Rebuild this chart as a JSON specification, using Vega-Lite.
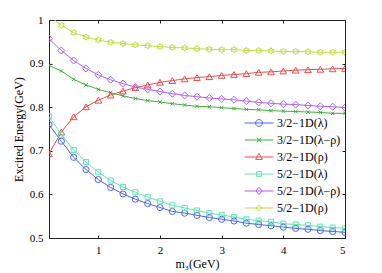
{
  "$schema": "https://vega.github.io/schema/vega-lite/v6.json",
  "width": 296,
  "height": 218,
  "autosize": {"type": "none"},
  "padding": {"left": 49, "top": 20, "right": 37, "bottom": 35},
  "background": "white",
  "config": {
    "view": {"stroke": "#222222", "strokeWidth": 1},
    "font": "Liberation Serif",
    "axis": {
      "domain": false,
      "grid": false,
      "tickSize": -3,
      "tickColor": "#222222",
      "labelFont": "Liberation Serif",
      "labelFontSize": 11,
      "labelColor": "black",
      "titleFont": "Liberation Serif",
      "titleFontSize": 12,
      "titleFontWeight": "normal",
      "titleColor": "black"
    },
    "legend": {
      "labelFont": "Liberation Serif",
      "labelFontSize": 12,
      "labelColor": "black"
    }
  },
  "data": {
    "values": [
      {"m":0.2,"E":0.760,"s":"3/2−1D(λ)"},{"m":0.4,"E":0.722,"s":"3/2−1D(λ)"},{"m":0.6,"E":0.685,"s":"3/2−1D(λ)"},{"m":0.8,"E":0.657,"s":"3/2−1D(λ)"},{"m":1.0,"E":0.634,"s":"3/2−1D(λ)"},{"m":1.2,"E":0.616,"s":"3/2−1D(λ)"},{"m":1.4,"E":0.601,"s":"3/2−1D(λ)"},{"m":1.6,"E":0.589,"s":"3/2−1D(λ)"},{"m":1.8,"E":0.579,"s":"3/2−1D(λ)"},{"m":2.0,"E":0.570,"s":"3/2−1D(λ)"},{"m":2.2,"E":0.561,"s":"3/2−1D(λ)"},{"m":2.4,"E":0.557,"s":"3/2−1D(λ)"},{"m":2.6,"E":0.552,"s":"3/2−1D(λ)"},{"m":2.8,"E":0.547,"s":"3/2−1D(λ)"},{"m":3.0,"E":0.543,"s":"3/2−1D(λ)"},{"m":3.2,"E":0.539,"s":"3/2−1D(λ)"},{"m":3.4,"E":0.534,"s":"3/2−1D(λ)"},{"m":3.6,"E":0.531,"s":"3/2−1D(λ)"},{"m":3.8,"E":0.528,"s":"3/2−1D(λ)"},{"m":4.0,"E":0.525,"s":"3/2−1D(λ)"},{"m":4.2,"E":0.522,"s":"3/2−1D(λ)"},{"m":4.4,"E":0.520,"s":"3/2−1D(λ)"},{"m":4.6,"E":0.517,"s":"3/2−1D(λ)"},{"m":4.8,"E":0.515,"s":"3/2−1D(λ)"},{"m":5.0,"E":0.513,"s":"3/2−1D(λ)"},

      {"m":0.2,"E":0.896,"s":"3/2−1D(λ−ρ)"},{"m":0.4,"E":0.883,"s":"3/2−1D(λ−ρ)"},{"m":0.6,"E":0.864,"s":"3/2−1D(λ−ρ)"},{"m":0.8,"E":0.851,"s":"3/2−1D(λ−ρ)"},{"m":1.0,"E":0.841,"s":"3/2−1D(λ−ρ)"},{"m":1.2,"E":0.833,"s":"3/2−1D(λ−ρ)"},{"m":1.4,"E":0.826,"s":"3/2−1D(λ−ρ)"},{"m":1.6,"E":0.820,"s":"3/2−1D(λ−ρ)"},{"m":1.8,"E":0.815,"s":"3/2−1D(λ−ρ)"},{"m":2.0,"E":0.812,"s":"3/2−1D(λ−ρ)"},{"m":2.2,"E":0.808,"s":"3/2−1D(λ−ρ)"},{"m":2.4,"E":0.805,"s":"3/2−1D(λ−ρ)"},{"m":2.6,"E":0.802,"s":"3/2−1D(λ−ρ)"},{"m":2.8,"E":0.801,"s":"3/2−1D(λ−ρ)"},{"m":3.0,"E":0.799,"s":"3/2−1D(λ−ρ)"},{"m":3.2,"E":0.797,"s":"3/2−1D(λ−ρ)"},{"m":3.4,"E":0.795,"s":"3/2−1D(λ−ρ)"},{"m":3.6,"E":0.794,"s":"3/2−1D(λ−ρ)"},{"m":3.8,"E":0.792,"s":"3/2−1D(λ−ρ)"},{"m":4.0,"E":0.791,"s":"3/2−1D(λ−ρ)"},{"m":4.2,"E":0.790,"s":"3/2−1D(λ−ρ)"},{"m":4.4,"E":0.789,"s":"3/2−1D(λ−ρ)"},{"m":4.6,"E":0.788,"s":"3/2−1D(λ−ρ)"},{"m":4.8,"E":0.786,"s":"3/2−1D(λ−ρ)"},{"m":5.0,"E":0.786,"s":"3/2−1D(λ−ρ)"},

      {"m":0.2,"E":0.693,"s":"3/2−1D(ρ)"},{"m":0.4,"E":0.743,"s":"3/2−1D(ρ)"},{"m":0.6,"E":0.778,"s":"3/2−1D(ρ)"},{"m":0.8,"E":0.801,"s":"3/2−1D(ρ)"},{"m":1.0,"E":0.816,"s":"3/2−1D(ρ)"},{"m":1.2,"E":0.828,"s":"3/2−1D(ρ)"},{"m":1.4,"E":0.837,"s":"3/2−1D(ρ)"},{"m":1.6,"E":0.845,"s":"3/2−1D(ρ)"},{"m":1.8,"E":0.851,"s":"3/2−1D(ρ)"},{"m":2.0,"E":0.857,"s":"3/2−1D(ρ)"},{"m":2.2,"E":0.861,"s":"3/2−1D(ρ)"},{"m":2.4,"E":0.865,"s":"3/2−1D(ρ)"},{"m":2.6,"E":0.868,"s":"3/2−1D(ρ)"},{"m":2.8,"E":0.870,"s":"3/2−1D(ρ)"},{"m":3.0,"E":0.873,"s":"3/2−1D(ρ)"},{"m":3.2,"E":0.875,"s":"3/2−1D(ρ)"},{"m":3.4,"E":0.877,"s":"3/2−1D(ρ)"},{"m":3.6,"E":0.880,"s":"3/2−1D(ρ)"},{"m":3.8,"E":0.881,"s":"3/2−1D(ρ)"},{"m":4.0,"E":0.883,"s":"3/2−1D(ρ)"},{"m":4.2,"E":0.885,"s":"3/2−1D(ρ)"},{"m":4.4,"E":0.886,"s":"3/2−1D(ρ)"},{"m":4.6,"E":0.887,"s":"3/2−1D(ρ)"},{"m":4.8,"E":0.888,"s":"3/2−1D(ρ)"},{"m":5.0,"E":0.889,"s":"3/2−1D(ρ)"},

      {"m":0.2,"E":0.779,"s":"5/2−1D(λ)"},{"m":0.4,"E":0.737,"s":"5/2−1D(λ)"},{"m":0.6,"E":0.702,"s":"5/2−1D(λ)"},{"m":0.8,"E":0.674,"s":"5/2−1D(λ)"},{"m":1.0,"E":0.651,"s":"5/2−1D(λ)"},{"m":1.2,"E":0.632,"s":"5/2−1D(λ)"},{"m":1.4,"E":0.617,"s":"5/2−1D(λ)"},{"m":1.6,"E":0.605,"s":"5/2−1D(λ)"},{"m":1.8,"E":0.594,"s":"5/2−1D(λ)"},{"m":2.0,"E":0.584,"s":"5/2−1D(λ)"},{"m":2.2,"E":0.575,"s":"5/2−1D(λ)"},{"m":2.4,"E":0.569,"s":"5/2−1D(λ)"},{"m":2.6,"E":0.563,"s":"5/2−1D(λ)"},{"m":2.8,"E":0.557,"s":"5/2−1D(λ)"},{"m":3.0,"E":0.553,"s":"5/2−1D(λ)"},{"m":3.2,"E":0.548,"s":"5/2−1D(λ)"},{"m":3.4,"E":0.543,"s":"5/2−1D(λ)"},{"m":3.6,"E":0.540,"s":"5/2−1D(λ)"},{"m":3.8,"E":0.537,"s":"5/2−1D(λ)"},{"m":4.0,"E":0.533,"s":"5/2−1D(λ)"},{"m":4.2,"E":0.531,"s":"5/2−1D(λ)"},{"m":4.4,"E":0.529,"s":"5/2−1D(λ)"},{"m":4.6,"E":0.526,"s":"5/2−1D(λ)"},{"m":4.8,"E":0.524,"s":"5/2−1D(λ)"},{"m":5.0,"E":0.522,"s":"5/2−1D(λ)"},

      {"m":0.2,"E":0.957,"s":"5/2−1D(λ−ρ)"},{"m":0.4,"E":0.930,"s":"5/2−1D(λ−ρ)"},{"m":0.6,"E":0.907,"s":"5/2−1D(λ−ρ)"},{"m":0.8,"E":0.889,"s":"5/2−1D(λ−ρ)"},{"m":1.0,"E":0.874,"s":"5/2−1D(λ−ρ)"},{"m":1.2,"E":0.863,"s":"5/2−1D(λ−ρ)"},{"m":1.4,"E":0.854,"s":"5/2−1D(λ−ρ)"},{"m":1.6,"E":0.846,"s":"5/2−1D(λ−ρ)"},{"m":1.8,"E":0.841,"s":"5/2−1D(λ−ρ)"},{"m":2.0,"E":0.836,"s":"5/2−1D(λ−ρ)"},{"m":2.2,"E":0.831,"s":"5/2−1D(λ−ρ)"},{"m":2.4,"E":0.827,"s":"5/2−1D(λ−ρ)"},{"m":2.6,"E":0.824,"s":"5/2−1D(λ−ρ)"},{"m":2.8,"E":0.821,"s":"5/2−1D(λ−ρ)"},{"m":3.0,"E":0.819,"s":"5/2−1D(λ−ρ)"},{"m":3.2,"E":0.817,"s":"5/2−1D(λ−ρ)"},{"m":3.4,"E":0.814,"s":"5/2−1D(λ−ρ)"},{"m":3.6,"E":0.811,"s":"5/2−1D(λ−ρ)"},{"m":3.8,"E":0.809,"s":"5/2−1D(λ−ρ)"},{"m":4.0,"E":0.807,"s":"5/2−1D(λ−ρ)"},{"m":4.2,"E":0.806,"s":"5/2−1D(λ−ρ)"},{"m":4.4,"E":0.804,"s":"5/2−1D(λ−ρ)"},{"m":4.6,"E":0.802,"s":"5/2−1D(λ−ρ)"},{"m":4.8,"E":0.801,"s":"5/2−1D(λ−ρ)"},{"m":5.0,"E":0.799,"s":"5/2−1D(λ−ρ)"},

      {"m":0.2,"E":1.010,"s":"5/2−1D(ρ)"},{"m":0.4,"E":0.988,"s":"5/2−1D(ρ)"},{"m":0.6,"E":0.971,"s":"5/2−1D(ρ)"},{"m":0.8,"E":0.961,"s":"5/2−1D(ρ)"},{"m":1.0,"E":0.954,"s":"5/2−1D(ρ)"},{"m":1.2,"E":0.949,"s":"5/2−1D(ρ)"},{"m":1.4,"E":0.946,"s":"5/2−1D(ρ)"},{"m":1.6,"E":0.943,"s":"5/2−1D(ρ)"},{"m":1.8,"E":0.941,"s":"5/2−1D(ρ)"},{"m":2.0,"E":0.939,"s":"5/2−1D(ρ)"},{"m":2.2,"E":0.937,"s":"5/2−1D(ρ)"},{"m":2.4,"E":0.936,"s":"5/2−1D(ρ)"},{"m":2.6,"E":0.934,"s":"5/2−1D(ρ)"},{"m":2.8,"E":0.933,"s":"5/2−1D(ρ)"},{"m":3.0,"E":0.932,"s":"5/2−1D(ρ)"},{"m":3.2,"E":0.932,"s":"5/2−1D(ρ)"},{"m":3.4,"E":0.930,"s":"5/2−1D(ρ)"},{"m":3.6,"E":0.930,"s":"5/2−1D(ρ)"},{"m":3.8,"E":0.929,"s":"5/2−1D(ρ)"},{"m":4.0,"E":0.928,"s":"5/2−1D(ρ)"},{"m":4.2,"E":0.928,"s":"5/2−1D(ρ)"},{"m":4.4,"E":0.927,"s":"5/2−1D(ρ)"},{"m":4.6,"E":0.926,"s":"5/2−1D(ρ)"},{"m":4.8,"E":0.926,"s":"5/2−1D(ρ)"},{"m":5.0,"E":0.926,"s":"5/2−1D(ρ)"}
    ]
  },
  "resolve": {"axis": {"x": "independent", "y": "independent"}},
  "layer": [
    {
      "mark": {"type": "line", "strokeWidth": 1, "clip": true},
      "encoding": {
        "x": {"field": "m", "type": "quantitative", "scale": {"domain": [0.2, 5], "nice": false, "zero": false},
              "axis": {"orient": "top", "labels": false, "title": null, "values": [1, 2, 3, 4, 5]}},
        "y": {"field": "E", "type": "quantitative", "scale": {"domain": [0.5, 1], "nice": false, "zero": false},
              "axis": {"orient": "right", "labels": false, "title": null, "values": [0.5, 0.6, 0.7, 0.8, 0.9, 1]}},
        "color": {"field": "s", "type": "nominal",
                  "scale": {"domain": ["3/2−1D(λ)", "3/2−1D(λ−ρ)", "3/2−1D(ρ)", "5/2−1D(λ)", "5/2−1D(λ−ρ)", "5/2−1D(ρ)"],
                            "range": ["#4d63f0", "#3db23d", "#f24a4a", "#5fe6b2", "#b25ff7", "#c4dc3a"]},
                  "legend": {
                    "orient": "none", "legendX": 204, "legendY": 97, "title": null, "padding": 0,
                    "symbolSize": 64, "symbolStrokeWidth": 1, "labelOffset": 12, "rowPadding": 5,
                    "encode": {"symbols": {"update": {
                      "fill": {"value": "transparent"},
                      "shape": {"signal": "datum.value == '3/2−1D(λ)' ? 'M-3.6,0L3.6,0M-0.85,0A0.85,0.85 0 1,0 0.85,0A0.85,0.85 0 1,0 -0.85,0' : datum.value == '3/2−1D(λ−ρ)' ? 'M-3.6,0L3.6,0M-0.55,-0.55L0.55,0.55M-0.55,0.55L0.55,-0.55' : datum.value == '3/2−1D(ρ)' ? 'M-3.6,0L3.6,0M0,-0.9L0.85,0.6L-0.85,0.6Z' : datum.value == '5/2−1D(λ)' ? 'M-3.6,0L3.6,0M-0.6,-0.6L0.6,-0.6L0.6,0.6L-0.6,0.6Z' : datum.value == '5/2−1D(λ−ρ)' ? 'M-3.6,0L3.6,0M0,-0.95L0.75,0L0,0.95L-0.75,0Z' : 'M-3.6,0L3.6,0M-0.6,0A0.6,0.6 0 1,0 0.6,0A0.6,0.6 0 1,0 -0.6,0'"}
                    }}}
                  }},
        "detail": {"field": "s"}
      }
    },
    {
      "transform": [{"filter": "datum.s == '3/2−1D(λ)'"}],
      "mark": {"type": "point", "shape": "circle", "size": 38, "filled": false, "strokeWidth": 1, "opacity": 1, "clip": true, "color": "#4d63f0"},
      "encoding": {
        "x": {"field": "m", "type": "quantitative", "scale": {"domain": [0.2, 5], "nice": false, "zero": false},
              "axis": {"orient": "bottom", "title": "m₃(GeV)", "values": [1, 2, 3, 4, 5], "labelPadding": 9, "titlePadding": 3}},
        "y": {"field": "E", "type": "quantitative", "scale": {"domain": [0.5, 1], "nice": false, "zero": false},
              "axis": {"orient": "left", "title": "Excited Energy(GeV)", "values": [0.5, 0.6, 0.7, 0.8, 0.9, 1], "format": "~g", "labelPadding": 9, "titlePadding": 4}}
      }
    },
    {
      "transform": [{"filter": "datum.s == '3/2−1D(λ−ρ)'"}],
      "mark": {"type": "point", "shape": "M-1,-1L1,1M-1,1L1,-1", "size": 12, "filled": false, "strokeWidth": 1, "opacity": 1, "clip": true, "color": "#3db23d"},
      "encoding": {
        "x": {"field": "m", "type": "quantitative", "axis": null},
        "y": {"field": "E", "type": "quantitative", "axis": null}
      }
    },
    {
      "transform": [{"filter": "datum.s == '3/2−1D(ρ)'"}],
      "mark": {"type": "point", "shape": "triangle-up", "size": 45, "filled": false, "strokeWidth": 1, "opacity": 1, "clip": true, "color": "#f24a4a"},
      "encoding": {
        "x": {"field": "m", "type": "quantitative", "axis": null},
        "y": {"field": "E", "type": "quantitative", "axis": null}
      }
    },
    {
      "transform": [{"filter": "datum.s == '5/2−1D(λ)'"}],
      "mark": {"type": "point", "shape": "square", "size": 26, "filled": false, "strokeWidth": 1, "opacity": 1, "clip": true, "color": "#5fe6b2"},
      "encoding": {
        "x": {"field": "m", "type": "quantitative", "axis": null},
        "y": {"field": "E", "type": "quantitative", "axis": null}
      }
    },
    {
      "transform": [{"filter": "datum.s == '5/2−1D(λ−ρ)'"}],
      "mark": {"type": "point", "shape": "diamond", "size": 50, "filled": false, "strokeWidth": 1, "opacity": 1, "clip": true, "color": "#b25ff7"},
      "encoding": {
        "x": {"field": "m", "type": "quantitative", "axis": null},
        "y": {"field": "E", "type": "quantitative", "axis": null}
      }
    },
    {
      "transform": [{"filter": "datum.s == '5/2−1D(ρ)'"}],
      "mark": {"type": "point", "shape": "M0,-1L0.29,-0.5L0.87,-0.5L0.58,0L0.87,0.5L0.29,0.5L0,1L-0.29,0.5L-0.87,0.5L-0.58,0L-0.87,-0.5L-0.29,-0.5Z", "size": 42, "filled": false, "strokeWidth": 1, "opacity": 1, "clip": true, "color": "#c4dc3a"},
      "encoding": {
        "x": {"field": "m", "type": "quantitative", "axis": null},
        "y": {"field": "E", "type": "quantitative", "axis": null}
      }
    }
  ]
}
